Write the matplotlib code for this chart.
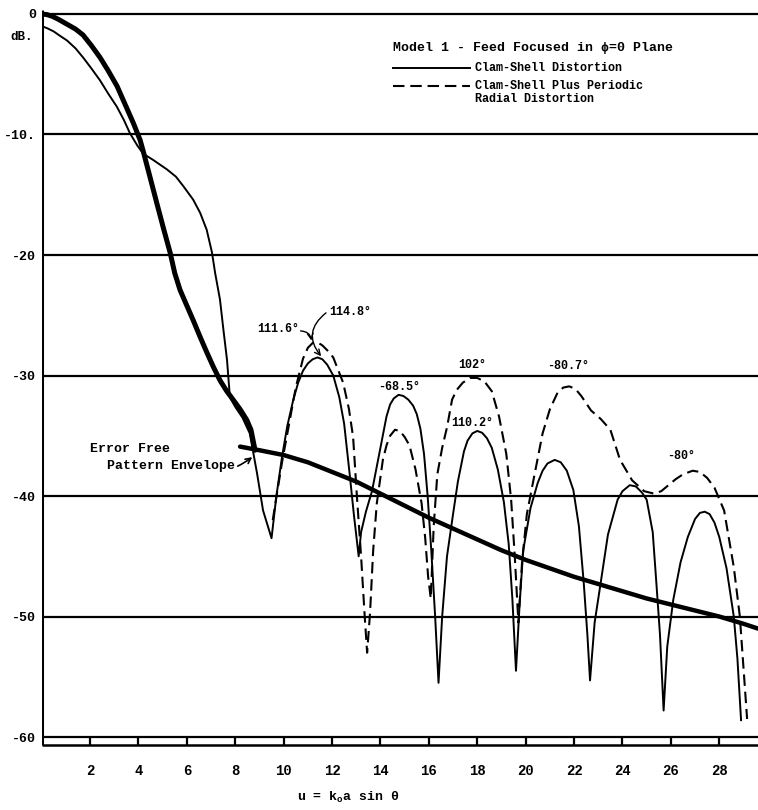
import matplotlib
matplotlib.use("Agg")
import matplotlib.pyplot as plt

# typewriter look of the original report
plt.rcParams['font.family'] = ['Liberation Mono', 'DejaVu Sans Mono']
plt.rcParams['font.weight'] = 'bold'


#######################################
### data
#######################################

# error free pattern, main lobe (thick curve)
main_u = [0.0, 0.22, 0.45, 0.7, 1.05, 1.4, 1.71, 2.05, 2.41, 2.75, 3.12, 3.45, 3.79, 4.07, 4.2,
          4.5, 4.76, 5.05, 5.31, 5.5, 5.72, 6.0, 6.26, 6.55, 6.83, 7.1, 7.37, 7.65, 7.91,
          8.2, 8.48, 8.65, 8.74, 8.82]
main_db = [0.0, -0.05, -0.2, -0.45, -0.85, -1.25, -1.74, -2.6, -3.6, -4.7, -6.0, -7.5, -9.05, -10.46, -11.4,
           -13.7, -15.7, -17.9, -19.8, -21.5, -22.9, -24.2, -25.4, -26.8, -28.1, -29.3, -30.4, -31.3, -32.0,
           -32.8, -33.7, -34.5, -35.4, -36.2]

# error free pattern envelope (thick curve)
env_u = [8.2, 9.0, 10.0, 11.0, 12.0, 13.0, 14.0, 15.0, 16.0, 17.0, 18.0, 19.0,
         20.0, 21.0, 22.0, 23.0, 24.0, 25.0, 26.0, 27.0, 28.0, 29.0, 29.6]
env_db = [-35.9, -36.2, -36.6, -37.2, -38.0, -38.8, -39.8, -40.8, -41.8, -42.7, -43.6, -44.5,
          -45.3, -46.0, -46.7, -47.3, -47.9, -48.5, -49.0, -49.5, -50.0, -50.6, -51.0]

# clam-shell distortion (solid)
clam_u = [0.0, 0.25, 0.5, 0.75, 1.05, 1.4, 1.71, 2.05, 2.41, 2.75, 3.11, 3.4, 3.65, 3.95, 4.2,
          4.6, 5.18, 5.55, 5.86, 6.26, 6.55, 6.82, 7.04, 7.17, 7.37, 7.5, 7.66, 7.78, 8.0, 8.3,
          8.6, 8.9, 9.15, 9.5,
          9.7, 9.93, 10.15, 10.4, 10.6, 10.8, 11.0, 11.2, 11.4, 11.6, 11.8, 12.05, 12.3, 12.5,
          12.74, 12.9, 13.1,
          13.2, 13.4, 13.65, 13.98, 14.25, 14.4, 14.55, 14.75, 14.95, 15.15, 15.35, 15.5, 15.65,
          15.8, 15.95, 16.1, 16.26, 16.4,
          16.55, 16.75, 17.0, 17.2, 17.45, 17.6, 17.8, 18.0, 18.2, 18.4, 18.6, 18.85, 19.1, 19.3,
          19.45, 19.6,
          19.75, 19.9, 20.2, 20.5, 20.7, 20.9, 21.2, 21.45, 21.7, 21.97, 22.2, 22.4, 22.55, 22.66,
          22.85, 23.1, 23.4, 23.8, 24.0, 24.3, 24.55, 24.8, 25.0, 25.25, 25.4, 25.55, 25.7,
          25.85, 26.1, 26.4, 26.7, 27.0, 27.2, 27.4, 27.6, 27.8, 28.0, 28.3, 28.6, 28.75, 28.9]
clam_db = [-1.0, -1.2, -1.45, -1.8, -2.2, -2.85, -3.6, -4.5, -5.5, -6.6, -7.7, -8.8, -9.9, -10.9, -11.6,
           -12.1, -12.9, -13.5, -14.3, -15.4, -16.5, -17.9, -19.8, -21.5, -23.7, -26.0, -28.7, -31.8, -32.6, -33.5,
           -34.8, -38.1, -41.2, -43.5,
           -40.0, -36.8, -34.2, -32.0, -30.6, -29.6, -29.0, -28.65, -28.5, -28.65, -29.1, -30.0, -31.8, -34.0,
           -38.4, -41.5, -45.0,
           -43.0, -41.3, -39.6, -36.2, -33.4, -32.4, -31.9, -31.6, -31.7, -32.0, -32.5, -33.2, -34.4,
           -36.5, -40.0, -44.5, -50.0, -55.5,
           -50.0, -45.0, -41.5, -38.8, -36.3, -35.4, -34.8, -34.6, -34.75, -35.2, -36.0, -37.8, -40.5, -44.0,
           -48.5, -54.5,
           -49.0, -44.5, -41.0, -38.9, -37.9, -37.3, -37.0, -37.2, -37.9, -39.5, -42.5, -47.2, -51.5, -55.3,
           -50.5, -47.2, -43.2, -40.3, -39.6, -39.1, -39.2, -39.7, -40.3, -43.0, -47.2, -51.5, -57.8,
           -52.5, -48.6, -45.5, -43.4, -41.9, -41.4, -41.3, -41.5, -42.2, -43.4, -46.0, -50.0, -53.5, -58.6]

# clam-shell plus periodic radial distortion (dashed)
radial_u = [9.55, 9.7, 9.95, 10.2, 10.5, 10.8, 11.0, 11.2, 11.4, 11.6, 11.8, 12.05, 12.46, 12.7,
            12.87, 13.03, 13.2, 13.35, 13.45, 13.57, 13.7, 13.85, 14.1, 14.25, 14.4, 14.6, 14.8,
            15.0, 15.2, 15.45, 15.7, 15.85, 15.97, 16.08, 16.2, 16.35, 16.55, 16.75, 16.96, 17.15,
            17.4, 17.7, 18.0, 18.3, 18.6, 18.9, 19.2, 19.4, 19.55, 19.7, 19.85, 20.05, 20.3, 20.7,
            21.0, 21.3, 21.55, 21.8, 22.05, 22.3, 22.7, 23.1, 23.5, 23.9, 24.4, 24.9, 25.3, 25.6,
            25.9, 26.2, 26.5, 26.9, 27.2, 27.5, 27.8, 28.2, 28.6, 28.85, 29.15]
radial_db = [-42.0, -40.1, -37.0, -34.3, -31.0, -28.6, -27.7, -27.3, -27.25, -27.5, -27.9, -28.5, -30.6, -32.8,
             -35.1, -40.1, -45.0, -50.0, -53.0, -49.7, -44.5, -40.6, -37.0, -35.8, -35.0, -34.5, -34.6,
             -35.1, -35.8, -37.8, -40.6, -43.5, -46.7, -48.5, -42.5, -38.2, -36.0, -34.3, -32.0, -31.2,
             -30.6, -30.2, -30.2, -30.5, -31.3, -33.4, -36.5, -40.3, -45.0, -50.5, -45.5, -41.5, -38.9, -34.8,
             -32.8, -31.5, -31.0, -30.9, -31.1, -31.7, -32.9, -33.6, -34.5, -37.0, -38.7, -39.6, -39.8, -39.6,
             -39.1, -38.6, -38.2, -37.9, -38.0, -38.5, -39.3, -41.2, -45.9, -50.0, -58.5]

# axis
grid_db = [0, -10, -20, -30, -40, -50, -60]
ytick_labels = ['0', '-10.', '-20', '-30', '-40', '-50', '-60']
xtick_u = [2, 4, 6, 8, 10, 12, 14, 16, 18, 20, 22, 24, 26, 28]
strip_u = [0, 2, 4, 6, 8, 10, 12, 14, 16, 18, 20, 22, 24, 26, 28]
u_max = 29.6
strip_low = -60.7

# phase labels on the side lobes: (text, u, dB)
phase_labels = [('111.6°', 9.77, -26.1), ('114.8°', 12.74, -24.7), ('-68.5°', 14.77, -30.95),
                ('102°', 17.78, -29.1), ('110.2°', 17.78, -33.9), ('-80.7°', 21.75, -29.2),
                ('-80°', 26.42, -36.7)]

dash = (0, (5.5, 2.8))


#######################################
### plot
#######################################

fig = plt.figure(figsize=(7.58, 8.10), dpi=100)
ax = fig.add_axes([0.0549, 0.0722, 0.9451, 0.9150])
ax.set_xlim(0, u_max)
ax.set_ylim(-61.2, 0.3)
for s in ax.spines.values():
    s.set_visible(False)

# grid lines, left axis and the ruler strip at the bottom
ax.hlines(grid_db, 0, u_max, color='k', lw=1.6)
ax.hlines(strip_low, 0, u_max, color='k', lw=1.8)
ax.vlines(strip_u, strip_low, -60, color='k', lw=1.6)
ax.vlines(0, strip_low, 0.3, color='k', lw=2.2)

# curves
ax.plot(main_u, main_db, color='k', lw=3.6, solid_capstyle='round', solid_joinstyle='round')
ax.plot(env_u, env_db, color='k', lw=3.2, solid_capstyle='round', solid_joinstyle='round')
ax.plot(clam_u, clam_db, color='k', lw=1.4, solid_joinstyle='round')
ax.plot(radial_u, radial_db, color='k', lw=1.5, ls=dash)

# ticks
ax.set_yticks(grid_db, ytick_labels, fontsize=9.5)
ax.tick_params(axis='y', length=0, pad=4)
ax.set_xticks(xtick_u, [str(v) for v in xtick_u], fontsize=10)
ax.tick_params(axis='x', length=0, pad=9)

ax.text(-0.35, -1.9, 'dB.', ha='right', va='center', fontsize=9)
ax.text(12.66, -65.0, r'u = k$_\mathregular{o}$a sin θ', ha='center', va='center', fontsize=9.5)

# key
ax.text(14.52, -2.8, 'Model 1 - Feed Focused in ϕ=0 Plane', ha='left', va='center', fontsize=9.5)
ax.plot([14.52, 17.7], [-4.48, -4.48], color='k', lw=1.4)
ax.text(17.91, -4.48, 'Clam-Shell Distortion', ha='left', va='center', fontsize=8.5)
ax.plot([14.52, 17.7], [-5.98, -5.98], color='k', lw=1.5, ls=dash)
ax.text(17.91, -5.98, 'Clam-Shell Plus Periodic', ha='left', va='center', fontsize=8.5)
ax.text(17.91, -7.05, 'Radial Distortion', ha='left', va='center', fontsize=8.5)

# envelope note
ax.text(2.0, -36.1, 'Error Free', ha='left', va='center', fontsize=9.5)
ax.annotate('Pattern Envelope', xy=(8.75, -36.7), xytext=(2.7, -37.5),
            ha='left', va='center', fontsize=9.5,
            arrowprops=dict(arrowstyle='->', color='k', lw=1.2,
                            connectionstyle='arc3,rad=0.3', shrinkA=0, shrinkB=1))

# phase labels
for txt, u, db in phase_labels:
    ax.text(u, db, txt, ha='center', va='center', fontsize=8.5)
ax.annotate('', xy=(11.15, -27.1), xytext=(10.7, -26.3),
            arrowprops=dict(arrowstyle='->', color='k', lw=1.0,
                            connectionstyle='arc3,rad=-0.4', shrinkA=0, shrinkB=0))
ax.annotate('', xy=(11.55, -28.4), xytext=(11.75, -24.8),
            arrowprops=dict(arrowstyle='->', color='k', lw=1.0,
                            connectionstyle='arc3,rad=0.5', shrinkA=0, shrinkB=0))

fig.savefig('out.png', dpi=100)
